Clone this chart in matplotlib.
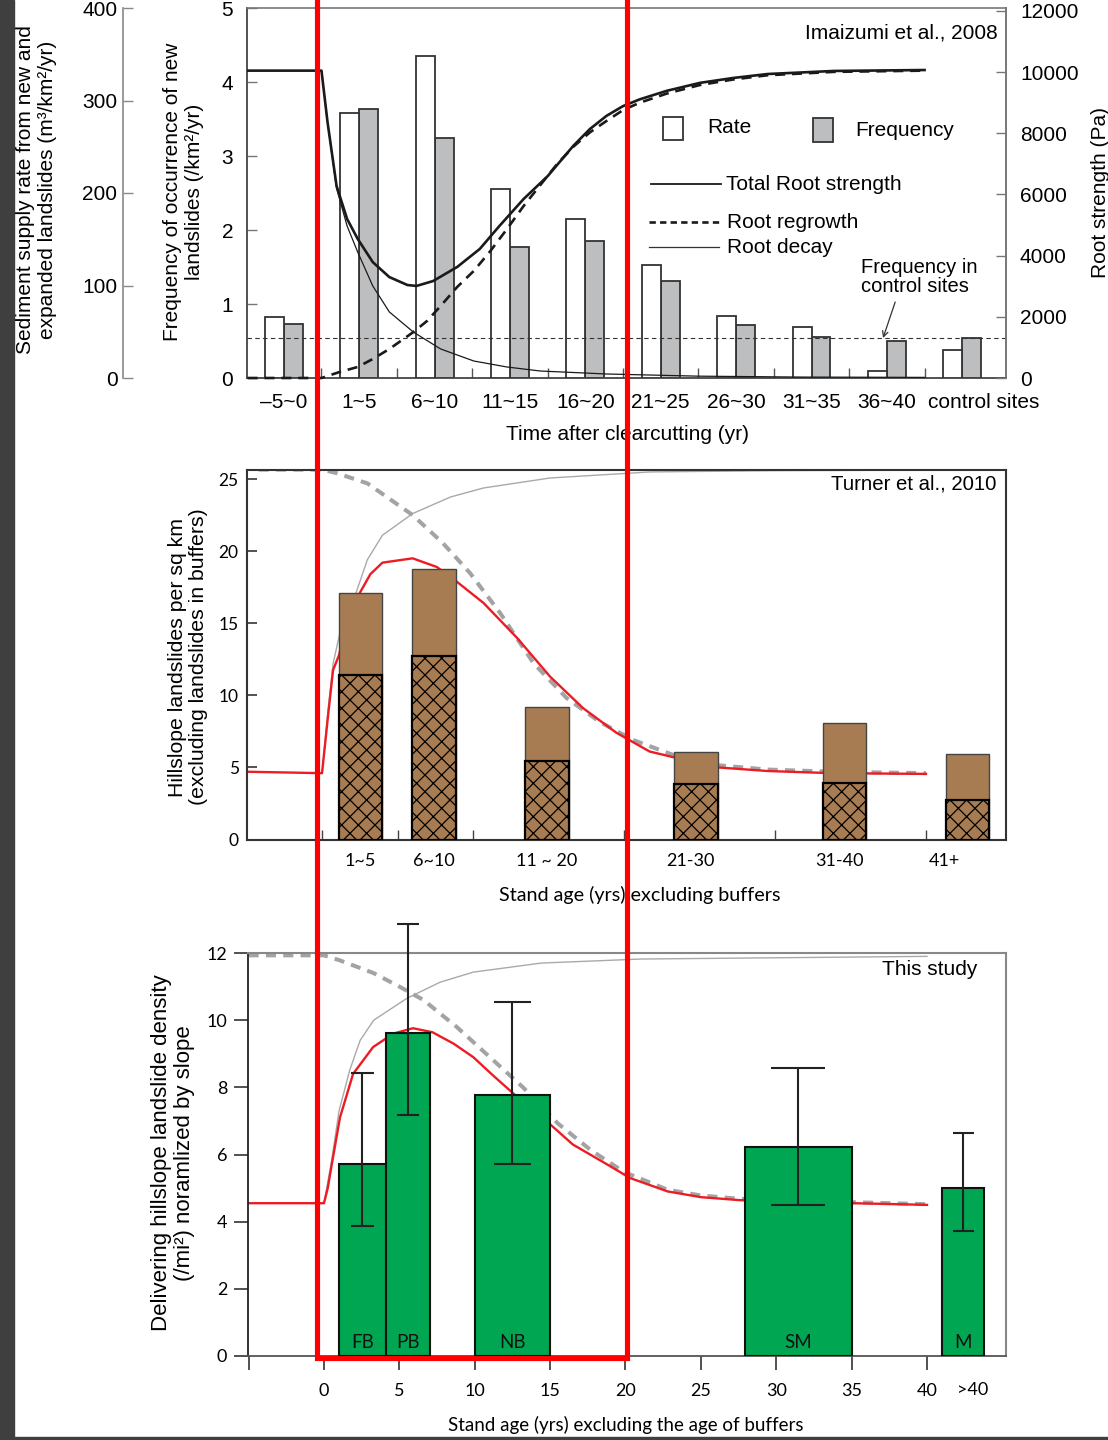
import numpy as np
import matplotlib
matplotlib.use("Agg")
import matplotlib.pyplot as plt
from matplotlib.patches import Rectangle
from matplotlib.lines import Line2D

plt.rcParams['font.family'] = ['Liberation Sans', 'DejaVu Sans']
plt.rcParams['hatch.linewidth'] = 0.9

# ------------------------------------------------------------------ data
# Panel 1 - Imaizumi et al., 2008
p1_labels = ["–5~0", "1~5", "6~10", "11~15", "16~20", "21~25", "26~30",
             "31~35", "36~40", "control sites"]
p1_center = [-2.5, 2.5, 7.5, 12.5, 17.5, 22.5, 27.5, 32.5, 37.5, 42.5]
p1_rate = [66, 286, 348, 204, 172, 122, 67, 55, 8, 30]
p1_freq = [0.73, 3.63, 3.25, 1.77, 1.85, 1.31, 0.72, 0.55, 0.50, 0.54]
p1_control_freq = 0.54

root_total_t = [-4.9, 0, 0.4, 1.0, 1.7, 2.4, 3.4, 4.5, 5.7, 6.3, 7.4, 9.0, 10.5,
                11.8, 13.4, 15.0, 16.7, 17.8, 18.9, 20.0, 21.1, 22.9, 25.1, 27.3,
                29.6, 34.0, 40.0]
root_total = [10050, 10050, 8370, 6280, 5200, 4550, 3790, 3300, 3040, 3010, 3170,
              3630, 4220, 4970, 5850, 6600, 7590, 8140, 8570, 8890, 9110, 9390,
              9650, 9810, 9940, 10040, 10070]
root_regrowth_t = [-4.9, 0, 1.2, 2.4, 3.4, 4.5, 6.1, 7.0, 7.9, 9.0, 10.1, 11.2,
                   12.3, 13.4, 14.5, 15.6, 16.7, 17.8, 18.9, 20.0, 21.1, 22.9,
                   25.1, 27.3, 29.6, 34.0, 40.0]
root_regrowth = [0, 0, 196, 360, 621, 948, 1504, 1864, 2354, 2976, 3500, 4150,
                 4870, 5620, 6300, 6980, 7560, 8030, 8404, 8760, 9000, 9300,
                 9580, 9760, 9900, 10010, 10050]
root_decay_t = [0, 0.4, 1.0, 1.7, 2.4, 3.4, 4.5, 6.1, 7.9, 10.1, 12.3, 14.5,
                18.9, 25.0, 32.0, 40.0]
root_decay = [10050, 8370, 6200, 4970, 4120, 3010, 2160, 1500, 950, 556, 360,
              229, 131, 60, 30, 20]

# Panel 2 - Turner et al., 2010
p2_labels = ["1~5", "6~10", "11 ~ 20", "21-30", "31-40", "41+"]
p2_center = [2.55, 7.4, 14.9, 24.75, 34.6, 42.75]
p2_total = [17.09, 18.76, 9.19, 6.09, 8.10, 5.93]
p2_hatched = [11.43, 12.75, 5.46, 3.85, 3.94, 2.74]

p2_red_t = [-5.0, 0, 0.4, 0.73, 1.13, 1.6, 2.5, 3.2, 4.0, 6.0, 7.6, 8.9, 10.7,
            12.9, 15.1, 17.3, 19.5, 21.7, 23.3, 26.2, 29.5, 33.8, 40.0]
p2_red = [4.7, 4.6, 8.6, 11.75, 12.8, 15.0, 17.1, 18.4, 19.2, 19.5, 18.9, 17.9,
          16.4, 14.0, 11.3, 9.1, 7.4, 6.1, 5.7, 5.0, 4.75, 4.6, 4.55]
p2_dash_t = [-4.2, 0, 1.0, 3.0, 6.0, 8.0, 9.8, 11.8, 14.0, 16.2, 18.4, 20.6,
             23.3, 26.2, 29.5, 33.8, 40.0]
p2_dash = [25.65, 25.65, 25.4, 24.7, 22.5, 20.56, 18.48, 15.7, 12.24, 9.81,
           8.15, 6.9, 5.85, 5.15, 4.85, 4.7, 4.6]
p2_thin_t = [0, 0.4, 0.73, 1.2, 1.7, 2.25, 3.0, 4.0, 6.0, 8.5, 10.7, 15.1, 21.7,
             30.0, 40.0]
p2_thin = [4.6, 9.0, 12.2, 14.4, 16.0, 17.1, 19.4, 21.1, 22.6, 23.75, 24.38,
           25.07, 25.49, 25.58, 25.62]

# Panel 3 - This study
p3_labels = ["FB", "PB", "NB", "SM", "M"]
p3_start = [1.0, 4.1, 10.0, 27.9, 41.0]
p3_end = [4.1, 7.0, 15.0, 35.0, 43.8]
p3_density = [5.73, 9.61, 7.78, 6.21, 4.99]
p3_err_hi = [8.44, 12.86, 10.54, 8.58, 6.65]
p3_err_lo = [3.87, 7.18, 5.71, 4.50, 3.73]

p3_red_t = [-5.0, 0, 0.25, 0.53, 1.06, 1.93, 3.26, 4.6, 5.9, 7.2, 8.6, 9.9,
            11.2, 12.6, 15.0, 16.5, 18.8, 20.3, 22.8, 25.0, 27.6, 35.1, 40.0]
p3_red = [4.55, 4.55, 5.0, 5.74, 7.1, 8.4, 9.2, 9.6, 9.76, 9.64, 9.3, 8.9,
          8.36, 7.8, 6.9, 6.3, 5.7, 5.3, 4.9, 4.73, 4.64, 4.55, 4.5]
p3_dash_t = [-5.0, 0, 1.06, 3.3, 5.0, 6.6, 8.8, 11.0, 13.2, 15.5, 17.7, 19.9,
             22.8, 25.0, 27.6, 35.0, 40.0]
p3_dash = [11.93, 11.93, 11.78, 11.4, 11.0, 10.6, 9.8, 8.9, 8.0, 6.93, 6.13,
           5.48, 4.95, 4.78, 4.68, 4.58, 4.52]
p3_thin_t = [0, 0.5, 1.0, 1.7, 2.4, 3.3, 5.5, 7.7, 9.9, 14.4, 21.0, 40.0]
p3_thin = [4.55, 5.8, 7.3, 8.5, 9.4, 10.0, 10.65, 11.13, 11.43, 11.7, 11.82, 11.9]

# ------------------------------------------------------------------ figure
W, H = 1108, 1440
fig = plt.figure(figsize=(W / 100, H / 100), dpi=100)


def rect(l, t, r, b):
    return [l / W, 1 - b / H, (r - l) / W, (b - t) / H]


MYR = ['Lato', 'DejaVu Sans']
BLACK = '#1a1a1a'
F1 = 15

# ============================== Panel 1 =================================
ax1 = fig.add_axes(rect(247, 8, 1006, 378))
ax_sed = ax1.twinx()
ax_root = ax1.twinx()
ax1.set_xlim(-4.94, 45.4)
ax1.set_ylim(0, 5)
ax_sed.set_ylim(0, 400)
ax_root.set_ylim(0, 12000 * 370 / 367)

bw = 1.26
pc = np.array(p1_center)
ax_sed.bar(pc - bw / 2, p1_rate, width=bw, color='white', edgecolor='#333333',
           linewidth=1.3)
ax1.bar(pc + bw / 2, p1_freq, width=bw, color='#bcbec0', edgecolor='#333333',
        linewidth=1.3)

ax_root.plot(ax1.get_xlim(), [p1_control_freq] * 2, transform=ax1.transData,
             color='#333333', lw=0.8, linestyle=(0, (4, 3)))
ax_root.plot(root_decay_t, root_decay, color=BLACK, lw=0.9)
ax_root.plot(root_regrowth_t, root_regrowth, color=BLACK, lw=1.9,
             linestyle=(0, (3.8, 2.6)), clip_on=False)
ax_root.plot(root_total_t, root_total, color=BLACK, lw=1.9)

tick_pos = pc.copy()
tick_pos[-1] += 1.4
ax1.set_xticks(tick_pos, p1_labels, fontsize=F1)
ax1.set_xticks(np.arange(0, 41, 5), minor=True)
ax1.tick_params(axis='x', which='major', length=0, pad=11)
ax1.tick_params(axis='x', which='minor', direction='in', length=7, width=1.0,
                color='#555555')
ax1.set_yticks(range(6), [str(i) for i in range(6)], fontsize=F1)
ax1.tick_params(axis='y', direction='in', length=7, width=1.0, color='#777777',
                pad=10)
for s in ['left', 'bottom']:
    ax1.spines[s].set_color('#444444')
    ax1.spines[s].set_linewidth(1.3)
for s in ['top', 'right']:
    ax1.spines[s].set_color('#777777')
    ax1.spines[s].set_linewidth(1.2)

ax_sed.yaxis.tick_left()
ax_sed.spines['left'].set_position(('outward', 124 * 0.72))
ax_sed.spines['left'].set_visible(True)
ax_sed.spines['left'].set_color('#888888')
ax_sed.spines['left'].set_linewidth(1.2)
for s in ['right', 'top', 'bottom']:
    ax_sed.spines[s].set_visible(False)
ax_sed.set_yticks(range(0, 401, 100), [str(v) for v in range(0, 401, 100)],
                  fontsize=F1)
ax_sed.tick_params(axis='y', direction='in', length=7, width=1.0,
                   color='#888888', pad=4)

for s in ['left', 'top', 'bottom']:
    ax_root.spines[s].set_visible(False)
ax_root.spines['right'].set_color('#777777')
ax_root.spines['right'].set_linewidth(1.2)
ax_root.set_yticks(range(0, 12001, 2000), [str(v) for v in range(0, 12001, 2000)],
                   fontsize=F1)
ax_root.tick_params(axis='y', direction='in', length=7, width=1.0,
                    color='#777777', pad=10)

# legend (manual)
T = ax_root.transAxes
ax_root.add_patch(Rectangle((0.548, 0.643), 0.0264, 0.062, transform=T,
                            facecolor='white', edgecolor='#333333', lw=1.3))
ax_root.text(0.606, 0.676, 'Rate', transform=T, fontsize=F1, va='center')
ax_root.add_patch(Rectangle((0.7457, 0.638), 0.0264, 0.065, transform=T,
                            facecolor='#bcbec0', edgecolor='#333333', lw=1.3))
ax_root.text(0.801, 0.670, 'Frequency', transform=T, fontsize=F1, va='center')
ax_root.add_line(Line2D([0.532, 0.6245], [0.524, 0.524], transform=T,
                        color=BLACK, lw=1.3))
ax_root.text(0.631, 0.524, 'Total Root strength', transform=T, fontsize=F1,
             va='center')
ax_root.add_line(Line2D([0.5296, 0.622], [0.4216, 0.4216], transform=T,
                        color=BLACK, lw=1.9, linestyle=(0, (2.4, 1.6))))
ax_root.text(0.632, 0.4216, 'Root regrowth', transform=T, fontsize=F1,
             va='center')
ax_root.add_line(Line2D([0.5296, 0.622], [0.354, 0.354], transform=T,
                        color='#333333', lw=0.9))
ax_root.text(0.632, 0.354, 'Root decay', transform=T, fontsize=F1,
             va='center')
ax_root.text(0.809, 0.273, 'Frequency in\ncontrol sites', transform=T,
             fontsize=14.5, va='center', ha='left', linespacing=0.95)
ax_root.annotate('', xy=(0.838, 0.108), xytext=(0.854, 0.2054),
                 xycoords='axes fraction', textcoords='axes fraction',
                 arrowprops=dict(arrowstyle='->', lw=0.9, color='#333333',
                                 shrinkA=0, shrinkB=0, mutation_scale=10))
ax_root.text(0.9895, 0.9324, 'Imaizumi et al., 2008', transform=T,
             fontsize=F1, ha='right', va='center')

# ============================== Panel 2 =================================
ax2 = fig.add_axes(rect(247, 469.5, 1006, 839.5))
ax2.set_xlim(-4.97, 45.3)
ax2.set_ylim(0, 25.66)
ax2.plot(p2_thin_t, p2_thin, color='#a9a9a9', lw=1.0, zorder=2)
ax2.plot(p2_dash_t, p2_dash, color='#a3a3a3', lw=2.9,
         linestyle=(0, (2.5, 1.8)), zorder=2)
ax2.plot(p2_red_t, p2_red, color='#ed1c24', lw=1.7, zorder=2.5)
bw2 = 2.9
ax2.bar(p2_center, p2_total, width=bw2, color='#a87c52', edgecolor='#444444',
        linewidth=1.0, zorder=3)
ax2.bar(p2_center, p2_hatched, width=bw2, color='#a87c52', edgecolor='black',
        hatch='xx', linewidth=1.6, zorder=4)

lab2 = np.array(p2_center)
lab2[3] -= 0.35
lab2[4] -= 0.35
lab2[5] -= 1.5
ax2.set_xticks(lab2, p2_labels, fontsize=13, fontfamily=MYR)
ax2.set_xticks([0, 5, 10, 20, 30, 40], minor=True)
ax2.tick_params(axis='x', which='major', length=0, pad=10)
ax2.tick_params(axis='x', which='minor', direction='in', length=7, width=1.0,
                color='#444444')
ax2.set_yticks(range(0, 26, 5), [str(v) for v in range(0, 26, 5)],
               fontsize=12.5, fontfamily=MYR)
ax2.tick_params(axis='y', direction='in', length=7, width=1.2, color='#333333',
                pad=6)
for s in ax2.spines.values():
    s.set_color('#333333')
    s.set_linewidth(1.5)
ax2.text(0.9868, 0.9596, 'Turner et al., 2010', transform=ax2.transAxes,
         fontsize=14.7, ha='right', va='center')

# ============================== Panel 3 =================================
ax3 = fig.add_axes(rect(248, 953, 1006, 1356))
ax3.set_xlim(-5.04, 45.24)
ax3.set_ylim(0, 12)
ax3.plot(p3_thin_t, p3_thin, color='#a9a9a9', lw=1.0, zorder=2)
ax3.plot(p3_dash_t, p3_dash, color='#a3a3a3', lw=2.9,
         linestyle=(0, (2.5, 1.8)), zorder=2)
ax3.plot(p3_red_t, p3_red, color='#ed1c24', lw=1.7, zorder=2.5)

st = np.array(p3_start)
en = np.array(p3_end)
wd = en - st
ctr = st + wd / 2
ax3.bar(st, p3_density, width=wd, align='edge', color='#00a651',
        edgecolor='#111111', linewidth=1.5, zorder=3)
ax3.vlines(ctr, p3_err_lo, p3_err_hi, color='#222222', lw=1.5, zorder=4,
           clip_on=False)
ax3.hlines(p3_err_hi, ctr - wd / 4, ctr + wd / 4, color='#222222', lw=1.5,
           zorder=4, clip_on=False)
ax3.hlines(p3_err_lo, ctr - wd / 4, ctr + wd / 4, color='#222222', lw=1.5,
           zorder=4, clip_on=False)
for c, lab in zip(ctr, p3_labels):
    ax3.text(c, 0.24, lab, ha='center', va='baseline', fontsize=13.5,
             fontfamily=MYR, color='#111111', zorder=5)

ax3.set_xticks(range(-5, 41, 5), [''] + [str(v) for v in range(0, 41, 5)],
               fontsize=13, fontfamily=MYR)
ax3.tick_params(axis='x', direction='out', length=10, width=1.2,
                color='#333333', pad=9.5)
ax3.text(43.0, -0.0844, '>40', transform=ax3.get_xaxis_transform(),
         ha='center', va='center', fontsize=13, fontfamily=MYR)
ax3.set_yticks(range(0, 13, 2), [str(v) for v in range(0, 13, 2)],
               fontsize=13, fontfamily=MYR)
ax3.tick_params(axis='y', direction='out', length=10, width=1.2,
                color='#333333', pad=5)
ax3.spines['left'].set_color('#222222')
ax3.spines['left'].set_linewidth(1.3)
ax3.spines['bottom'].set_color('#555555')
ax3.spines['bottom'].set_linewidth(1.3)
for s in ['top', 'right']:
    ax3.spines[s].set_color('#888888')
    ax3.spines[s].set_linewidth(1.5)
ax3.text(0.9617, 0.958, 'This study', transform=ax3.transAxes,
         fontsize=F1, ha='right', va='center')

# ------------------------------------------------------------------ axis titles
def ftext(x, y, s, **kw):
    fig.text(x / W, 1 - y / H, s, ha='center', va='center', **kw)


ftext(37, 190, 'Sediment supply rate from new and\nexpanded landslides (m³/km²/yr)',
      rotation=90, fontsize=F1, linespacing=1.2)
ftext(183, 192, 'Frequency of occurrence of new\nlandslides (/km²/yr)',
      rotation=90, fontsize=F1, linespacing=1.2)
ftext(1100, 192, 'Root strength (Pa)', rotation=90, fontsize=F1)
ftext(627, 434, 'Time after clearcutting (yr)', fontsize=F1)
ftext(188, 657, 'Hillslope landslides per sq km\n(excluding landslides in buffers)',
      rotation=90, fontsize=15.3, linespacing=1.15)
ftext(640, 895, 'Stand age (yrs) excluding buffers', fontsize=14.2, family=MYR)
ftext(173, 1153, 'Delivering hillslope landslide density\n(/mi²) noramlized by slope',
      rotation=90, fontsize=16, linespacing=1.1)
ftext(626, 1425, 'Stand age (yrs) excluding the age of buffers', fontsize=13.5,
      family=MYR)

# ------------------------------------------------------------------ red frame & borders
ytop = 45
fig.add_artist(Line2D([-0.47, -0.47, 20.1, 20.1], [ytop, -0.06, -0.06, ytop],
                      transform=ax3.transData, color='#ff0000', lw=3.7,
                      solid_joinstyle='miter', zorder=10))
fig.add_artist(Rectangle((0, 0), 14 / W, 1, transform=fig.transFigure,
                         color='#3f3f3f', zorder=11))
fig.add_artist(Rectangle((0, 0), 1, 3 / H, transform=fig.transFigure,
                         color='#3f3f3f', zorder=11))

fig.savefig('out.png', dpi=100)
